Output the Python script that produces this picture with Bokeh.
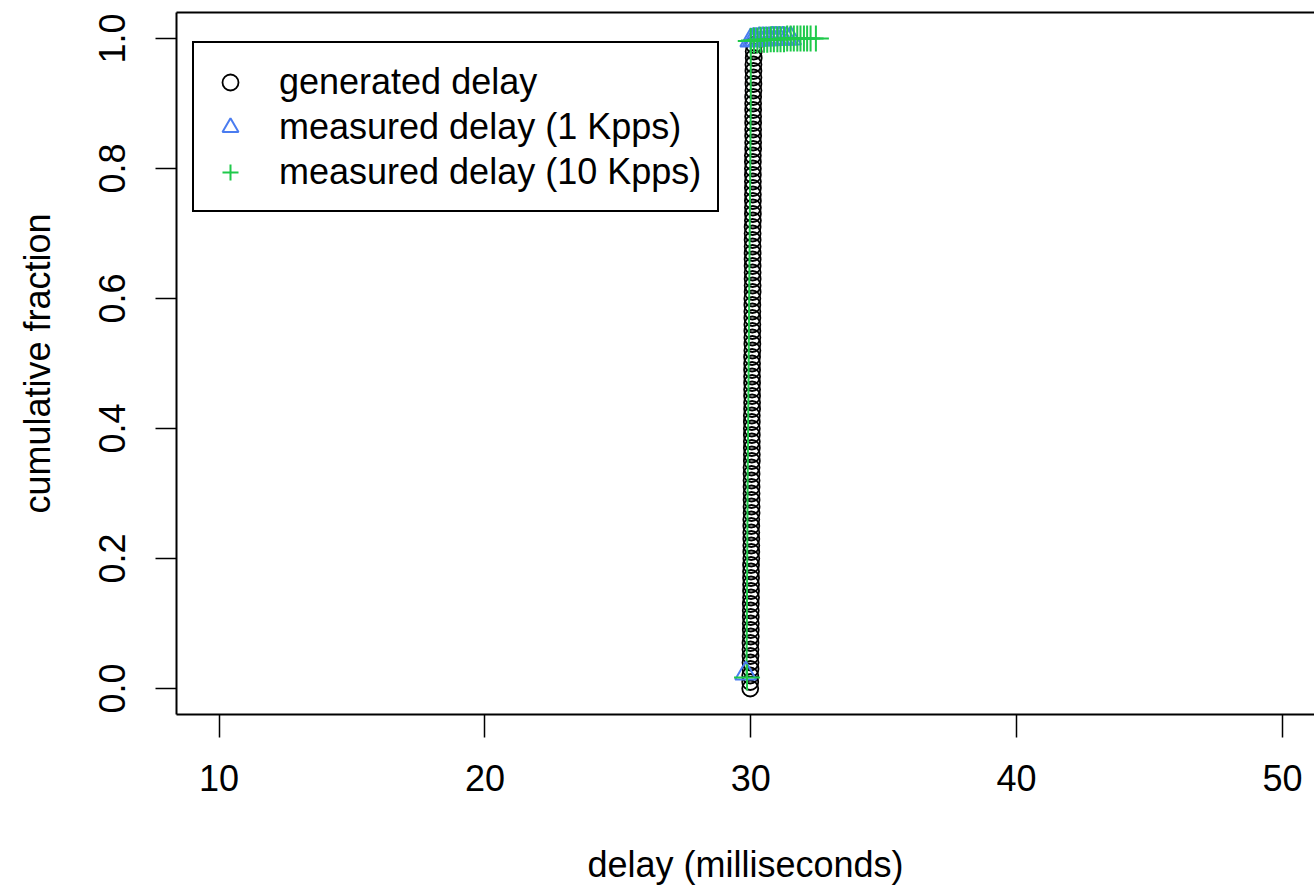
from bokeh.plotting import figure
from bokeh.models import (Range1d, FixedTicker, LinearAxis, Legend, LegendItem,
                          PrintfTickFormatter)
from bokeh.embed import file_html
from bokeh.resources import INLINE

FONT = "Liberation Sans"
BLUE = "#4A7CF0"
GREEN = "#1FC94A"

# ---- data ----
gen_delay = [
    29.98, 29.98, 29.98, 29.99, 29.99, 29.99, 29.99, 29.99, 30.00, 30.00,
    30.00, 30.00, 30.00, 30.00, 30.01, 30.01, 30.01, 30.01, 30.01, 30.01,
    30.02, 30.02, 30.02, 30.02, 30.02, 30.02, 30.02, 30.03, 30.03, 30.03,
    30.03, 30.03, 30.03, 30.03, 30.03, 30.04, 30.04, 30.04, 30.04, 30.04,
    30.04, 30.04, 30.04, 30.05, 30.05, 30.05, 30.05, 30.05, 30.05, 30.05,
    30.05, 30.05, 30.06, 30.06, 30.06, 30.06, 30.06, 30.06, 30.06, 30.06,
    30.06, 30.07, 30.07, 30.07, 30.07, 30.07, 30.07, 30.07, 30.07, 30.07,
    30.07, 30.07, 30.08, 30.08, 30.08, 30.08, 30.08, 30.08, 30.08, 30.08,
    30.08, 30.08, 30.08, 30.09, 30.09, 30.09, 30.09, 30.09, 30.09, 30.09,
    30.09, 30.09, 30.10, 30.10, 30.10, 30.10, 30.10, 30.11, 30.11, 30.12,
]
gen_frac = [
    0.00, 0.01, 0.02, 0.03, 0.04, 0.05, 0.06, 0.07, 0.08, 0.09,
    0.10, 0.11, 0.12, 0.13, 0.14, 0.15, 0.16, 0.17, 0.18, 0.19,
    0.20, 0.21, 0.22, 0.23, 0.24, 0.25, 0.26, 0.27, 0.28, 0.29,
    0.30, 0.31, 0.32, 0.33, 0.34, 0.35, 0.36, 0.37, 0.38, 0.39,
    0.40, 0.41, 0.42, 0.43, 0.44, 0.45, 0.46, 0.47, 0.48, 0.49,
    0.50, 0.51, 0.52, 0.53, 0.54, 0.55, 0.56, 0.57, 0.58, 0.59,
    0.60, 0.61, 0.62, 0.63, 0.64, 0.65, 0.66, 0.67, 0.68, 0.69,
    0.70, 0.71, 0.72, 0.73, 0.74, 0.75, 0.76, 0.77, 0.78, 0.79,
    0.80, 0.81, 0.82, 0.83, 0.84, 0.85, 0.86, 0.87, 0.88, 0.89,
    0.90, 0.91, 0.92, 0.93, 0.94, 0.95, 0.96, 0.97, 0.98, 0.99,
]

kpps1_delay = [29.81, 30.00, 30.10, 30.19, 30.32, 30.45, 30.57, 30.68,
               30.81, 30.94, 31.07, 31.20, 31.35, 31.50]
kpps1_frac = [0.023, 0.997, 0.998, 0.998, 0.999, 0.999, 0.999, 0.999,
              1.000, 1.000, 1.000, 1.000, 1.000, 1.000]

kpps10_line_delay = [29.84, 29.86, 29.88, 29.91, 29.94, 29.97, 30.00, 30.00,
                     30.50, 31.00, 31.50, 32.00, 32.45]
kpps10_line_frac = [0.017, 0.15, 0.30, 0.45, 0.60, 0.75, 0.90, 0.995,
                    0.997, 0.998, 0.999, 0.9995, 1.000]

kpps10_delay = [29.86, 30.00, 30.12, 30.25, 30.37, 30.50, 30.62, 30.75, 30.87,
                31.00, 31.12, 31.25, 31.37, 31.50, 31.62, 31.75, 31.87, 32.00,
                32.12, 32.25, 32.45]
kpps10_frac = [0.017, 0.996, 0.997, 0.997, 0.998, 0.998, 0.998, 0.999, 0.999,
               0.999, 0.999, 0.999, 1.000, 1.000, 1.000, 1.000, 1.000, 1.000,
               1.000, 1.000, 1.000]

x_ticks = [10, 20, 30, 40, 50]
y_ticks = [0.0, 0.2, 0.4, 0.6, 0.8, 1.0]

# ---- figure ----
p = figure(width=1314, height=890, output_backend="svg", toolbar_location=None,
           x_range=Range1d(8.4, 51.204), y_range=Range1d(-0.04, 1.04),
           min_border_left=176, min_border_right=0, min_border_top=12,
           min_border_bottom=176,
           x_axis_label="delay (milliseconds)", y_axis_label="cumulative fraction")
p.outline_line_color = None
p.grid.visible = False
p.background_fill_color = "white"
p.border_fill_color = "white"

for ax in (p.xaxis[0], p.yaxis[0]):
    ax.axis_line_width = 2
    ax.axis_line_color = "black"
    ax.major_tick_line_width = 1.5
    ax.major_tick_line_color = "black"
    ax.major_tick_in = 0
    ax.minor_tick_out = 0
    ax.minor_tick_in = 0
    ax.major_label_text_font = FONT
    ax.major_label_text_font_size = "36px"
    ax.major_label_text_color = "black"
    ax.axis_label_text_font = FONT
    ax.axis_label_text_font_size = "36px"
    ax.axis_label_text_font_style = "normal"
    ax.axis_label_text_color = "black"

p.xaxis[0].ticker = FixedTicker(ticks=x_ticks)
p.xaxis[0].major_tick_out = 23
p.xaxis[0].major_label_standoff = 27
p.xaxis[0].axis_label_standoff = 50

p.yaxis[0].ticker = FixedTicker(ticks=y_ticks)
p.yaxis[0].formatter = PrintfTickFormatter(format="%.1f")
p.yaxis[0].major_tick_out = 21
p.yaxis[0].major_label_orientation = "vertical"
p.yaxis[0].major_label_standoff = 31
p.yaxis[0].axis_label_standoff = 38

top = LinearAxis(ticker=FixedTicker(ticks=[]), axis_line_width=2,
                 major_tick_out=0, major_tick_in=0, minor_tick_out=0,
                 minor_tick_in=0, major_label_text_font_size="0px",
                 major_label_standoff=0)
p.add_layout(top, "above")

# ---- data marks ----
r_gen = p.scatter(gen_delay, gen_frac, marker="circle", size=16,
                  fill_color=None, line_color="black", line_width=1.8)
p.line(kpps10_line_delay, kpps10_line_frac, line_color=GREEN, line_width=2)
r_k1 = p.scatter(kpps1_delay, kpps1_frac, marker="triangle", size=21,
                 fill_color=None, line_color=BLUE, line_width=2)
r_k10 = p.scatter(kpps10_delay, kpps10_frac, marker="cross", size=26,
                  line_color=GREEN, line_width=2)

legend = Legend(items=[
    LegendItem(label="generated delay", renderers=[r_gen]),
    LegendItem(label="measured delay (1 Kpps)", renderers=[r_k1]),
    LegendItem(label="measured delay (10 Kpps)", renderers=[r_k10]),
], location=(16, 502))
legend.label_text_font = FONT
legend.label_text_font_size = "36px"
legend.label_text_color = "black"
legend.glyph_width = 40
legend.glyph_height = 40
legend.label_height = 45
legend.label_standoff = 29
legend.padding = 16
legend.spacing = 0
legend.margin = 0
legend.border_line_color = "black"
legend.border_line_alpha = 1.0
legend.border_line_width = 2
legend.background_fill_color = "white"
legend.background_fill_alpha = 1.0
p.add_layout(legend)

open("out.html", "w").write(file_html(p, INLINE))
